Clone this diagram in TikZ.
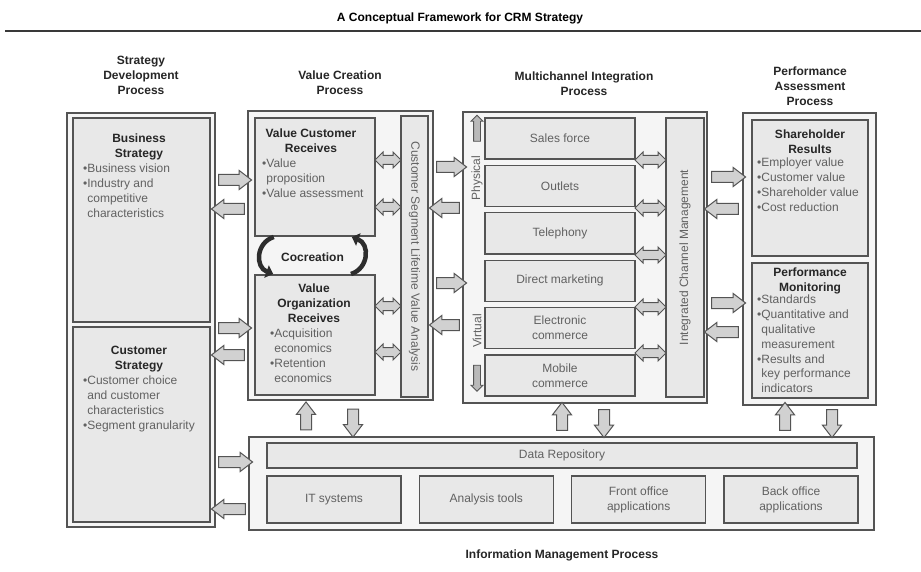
\documentclass[tikz,border=0pt]{standalone}
\usepackage{fontspec}
\setmainfont{Liberation Sans}
\usetikzlibrary{calc,shapes.arrows,arrows.meta}

\definecolor{boxline}{gray}{0.33}
\definecolor{outerfill}{gray}{0.96}
\definecolor{innerfill}{gray}{0.91}
\definecolor{arrowfill}{gray}{0.82}
\definecolor{bodytext}{gray}{0.38}

\begin{document}
\fontsize{12}{14.8}\selectfont
\begin{tikzpicture}[x=1pt,y=-1pt,
    outerbox/.style={draw=boxline,line width=1.4pt,fill=outerfill,inner sep=0pt},
    innerbox/.style={draw=boxline,line width=1.4pt,fill=innerfill,inner sep=0pt,text=bodytext,align=center},
    heading/.style={font=\bfseries,text=black!85,align=center,inner sep=0pt},
    bullets/.style={text=bodytext,align=left,inner sep=0pt,anchor=north west},
    rarrow/.style={single arrow,draw=boxline,line width=1pt,fill=arrowfill,inner sep=5pt,
        single arrow head extend=4pt,single arrow tip angle=75,minimum height=#1},
    larrow/.style={rarrow=#1,shape border rotate=180},
    uarrow/.style={rarrow=#1,shape border rotate=90},
    darrow/.style={rarrow=#1,shape border rotate=270},
    dblarrow/.style={double arrow,draw=boxline,line width=1pt,fill=arrowfill,inner sep=4pt,
        double arrow head extend=3.5pt,minimum height=#1},
    smallarrow/.style={single arrow,draw=boxline,line width=0.8pt,fill=gray!55,inner sep=3pt,
        single arrow head extend=2.5pt,minimum height=26pt,shape border rotate=#1},
    coarrow/.style={line width=4.5pt,draw=gray!35!black,-{Triangle[length=7pt,width=13pt]},
        shorten <=1pt,shorten >=1pt}]
    \path[use as bounding box,fill=white] (0,0) rectangle (921,572);

    \node[font=\bfseries] (title) at (460,18) {A Conceptual Framework for CRM Strategy};
    \coordinate (ruleL) at (5,31);
    \coordinate (ruleR) at (921,31);
    \draw[line width=2.5pt,draw=gray!45!black] (ruleL) -- (ruleR);

    \node[heading] (sdphead) at (141,75.5) {Strategy\\Development\\Process};
    \node[heading] (vcphead) at (340,83) {Value Creation\\Process};
    \node[heading] (miphead) at (584,83.5) {Multichannel Integration\\Process};
    \node[heading] (paphead) at (810,86) {Performance\\Assessment\\Process};

    \node[outerbox,minimum width=148pt,minimum height=414pt] (sdp) at (141,320) {};
    \node[innerbox,minimum width=137pt,minimum height=204pt] (bs) at (141.5,220) {};
    \node[innerbox,minimum width=137pt,minimum height=195pt] (cs) at (141.5,424.5) {};
    \node[heading,anchor=north] (bshead) at (139,134) {Business\\Strategy};
    \node[bullets] (bslist) at (83,164) {•Business vision\\•Industry and\\\hphantom{•}competitive\\\hphantom{•}characteristics};
    \node[heading,anchor=north] (cshead) at (139,346) {Customer\\Strategy};
    \node[bullets] (cslist) at (83,376) {•Customer choice\\\hphantom{•}and customer\\\hphantom{•}characteristics\\•Segment granularity};

    \node[outerbox,minimum width=185pt,minimum height=289pt] (vcp) at (340.5,255.5) {};
    \node[innerbox,minimum width=120pt,minimum height=118pt] (vcr) at (315,177) {};
    \node[innerbox,minimum width=120pt,minimum height=120pt] (vor) at (315,335) {};
    \node[innerbox,rotate=-90,minimum width=281pt,minimum height=27pt] (csl) at (414.5,256.5) {Customer Segment Lifetime Value Analysis};
    \node[heading,anchor=north] (vcrhead) at (311,129) {Value Customer\\Receives};
    \node[bullets] (vcrlist) at (262,159) {•Value\\\hphantom{•}proposition\\•Value assessment};
    \node[heading,anchor=north] (vorhead) at (314,284) {Value\\Organization\\Receives};
    \node[bullets] (vorlist) at (270,329) {•Acquisition\\\hphantom{•}economics\\•Retention\\\hphantom{•}economics};
    \node[heading] (cocreation) at (312.5,257) {Cocreation};
    \draw[coarrow] (vcr.-124) .. controls +(-19,6) and +(-19,-7) .. (vor.124);
    \draw[coarrow] (vor.60) .. controls +(19,-6) and +(19,7) .. (vcr.-59);

    \node[outerbox,minimum width=244pt,minimum height=291pt] (mip) at (585,257.5) {};
    \node[innerbox,minimum width=150pt,minimum height=41pt] (sales) at (560,138.5) {Sales force};
    \node[innerbox,minimum width=150pt,minimum height=41pt] (outlets) at (560,185.9) {Outlets};
    \node[innerbox,minimum width=150pt,minimum height=41pt] (tel) at (560,233.3) {Telephony};
    \node[innerbox,minimum width=150pt,minimum height=41pt] (direct) at (560,280.7) {Direct marketing};
    \node[innerbox,minimum width=150pt,minimum height=41pt] (ecom) at (560,328.1) {Electronic\\commerce};
    \node[innerbox,minimum width=150pt,minimum height=41pt] (mcom) at (560,375.5) {Mobile\\commerce};
    \node[innerbox,rotate=90,minimum width=279pt,minimum height=38pt] (icm) at (685,257.5) {Integrated Channel Management};
    \node[rotate=90,text=bodytext,inner sep=0pt] (physical) at (477,178) {Physical};
    \node[rotate=90,text=bodytext,inner sep=0pt] (virtual) at (477,331) {Virtual};
    \node[smallarrow=90] (physup) at (477,130) {};
    \node[smallarrow=270] (virtdown) at (477,376.5) {};

    \node[outerbox,minimum width=133pt,minimum height=292pt] (pap) at (809.5,259) {};
    \node[innerbox,minimum width=116pt,minimum height=136pt] (shr) at (810,188) {};
    \node[innerbox,minimum width=116pt,minimum height=135pt] (pm) at (810,330.5) {};
    \node[heading,anchor=north] (shrhead) at (810,130) {Shareholder\\Results};
    \node[bullets] (shrlist) at (757,158) {•Employer value\\•Customer value\\•Shareholder value\\•Cost reduction};
    \node[heading,anchor=north] (pmhead) at (810,268) {Performance\\Monitoring};
    \node[bullets] (pmlist) at (757,295) {•Standards\\•Quantitative and\\\hphantom{•}qualitative\\\hphantom{•}measurement\\•Results and\\\hphantom{•}key performance\\\hphantom{•}indicators};

    \node[outerbox,minimum width=625pt,minimum height=93pt] (imp) at (561.5,483.5) {};
    \node[innerbox,minimum width=590pt,minimum height=25pt] (repo) at (562,455.5) {Data Repository};
    \node[innerbox,minimum width=134pt,minimum height=47pt] (itsys) at (334,499.5) {IT systems};
    \node[innerbox,minimum width=134pt,minimum height=47pt] (tools) at (486.3,499.5) {Analysis tools};
    \node[innerbox,minimum width=134pt,minimum height=47pt] (front) at (638.7,499.5) {Front office\\applications};
    \node[innerbox,minimum width=134pt,minimum height=47pt] (back) at (791,499.5) {Back office\\applications};
    \node[heading] (imphead) at (562,555) {Information Management Process};

    \node[rarrow=33pt] (bsright) at (231.5,180) {};
    \node[larrow=33pt] (bsleft) at (231.5,209) {};
    \node[rarrow=33pt] (csright) at (231.5,328) {};
    \node[larrow=33pt] (csleft) at (231.5,355) {};
    \node[rarrow=34pt] (infright) at (232,462) {};
    \node[larrow=34pt] (infleft) at (232,509) {};

    \node[rarrow=30pt] (vcright1) at (448,167) {};
    \node[larrow=30pt] (vcleft1) at (448,208) {};
    \node[rarrow=30pt] (vcright2) at (448,283) {};
    \node[larrow=30pt] (vcleft2) at (448,325) {};

    \node[rarrow=34pt] (mpright1) at (725,177) {};
    \node[larrow=34pt] (mpleft1) at (725,209) {};
    \node[rarrow=34pt] (mpright2) at (725,303) {};
    \node[larrow=34pt] (mpleft2) at (725,332) {};

    \node[dblarrow=26pt] (vcrdbl1) at (388,160) {};
    \node[dblarrow=26pt] (vcrdbl2) at (388,207) {};
    \node[dblarrow=26pt] (vordbl1) at (388,306) {};
    \node[dblarrow=26pt] (vordbl2) at (388,352) {};

    \node[dblarrow=31pt] (chdbl1) at (650.5,160) {};
    \node[dblarrow=31pt] (chdbl2) at (650.5,208) {};
    \node[dblarrow=31pt] (chdbl3) at (650.5,255) {};
    \node[dblarrow=31pt] (chdbl4) at (650.5,307) {};
    \node[dblarrow=31pt] (chdbl5) at (650.5,353) {};

    \node[uarrow=28pt] (vcup) at (306,419.5) {};
    \node[darrow=28pt] (vcdown) at (353,419.5) {};
    \node[uarrow=28pt] (mipup) at (562,420) {};
    \node[darrow=28pt] (mipdown) at (604,420) {};
    \node[uarrow=28pt] (papup) at (785,420) {};
    \node[darrow=28pt] (papdown) at (832,420) {};
\end{tikzpicture}
\end{document}
